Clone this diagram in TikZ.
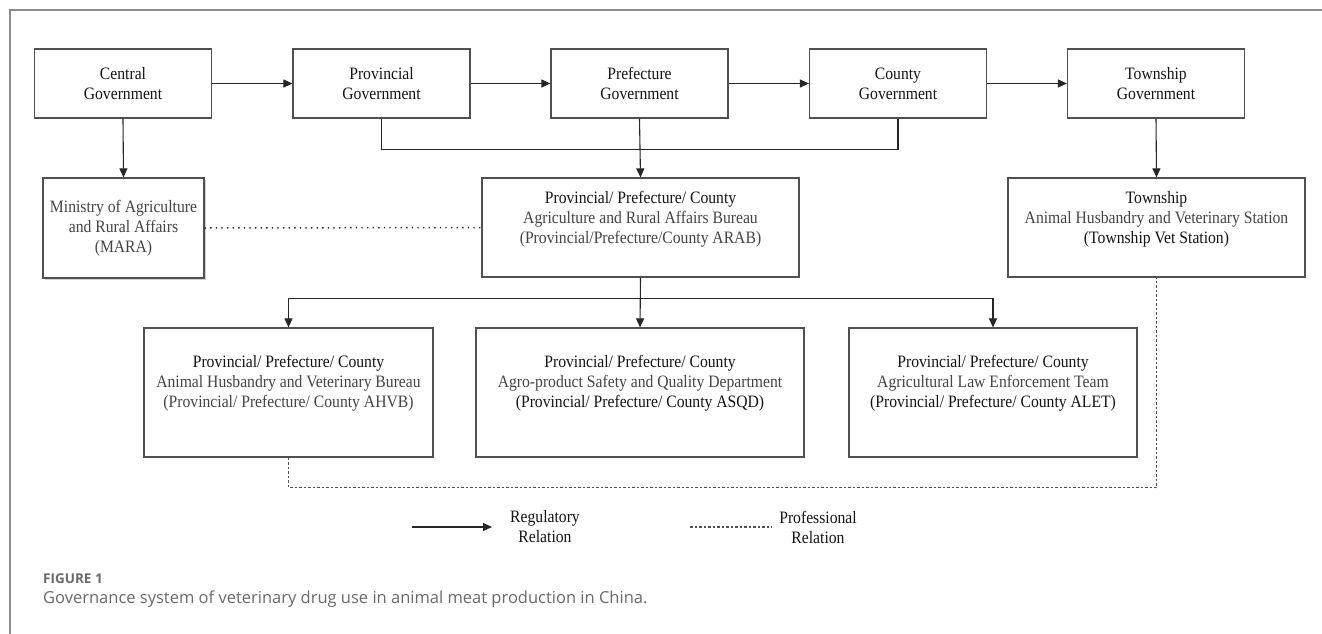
\documentclass[tikz,border=0pt]{standalone}
\usepackage{fontspec}
\setmainfont[FakeStretch=0.9]{Liberation Serif}
\newfontfamily\capfont{Open Sans}
\usetikzlibrary{arrows.meta,shadows}
\definecolor{boxline}{HTML}{505050}
\definecolor{txtdark}{HTML}{141414}
\definecolor{txtlight}{HTML}{444444}
\definecolor{conn}{HTML}{262626}
\definecolor{framec}{HTML}{8A8A8A}
\definecolor{capc}{HTML}{6A6A6A}
\tikzset{
  box/.style={draw=boxline, line width=1.2pt, rectangle, inner sep=0pt, fill=white},
  boxtxt/.style={align=center, inner sep=0pt, text=txtdark, font=\fontsize{17.4}{20}\selectfont},
  reg/.style={draw=conn, line width=1.1pt, -{Triangle[length=9pt,width=8pt]}},
  plain/.style={draw=conn, line width=1.1pt},
  dotline/.style={draw=conn, line width=1.5pt, dash pattern=on 1.3pt off 4.3pt},
  prof/.style={draw=boxline, line width=1.1pt, dash pattern=on 2.6pt off 1.9pt},
}
\begin{document}
\begin{tikzpicture}[x=1pt,y=-1pt]
\useasboundingbox (0,0) rectangle (1322,634);
\fill[white] (0,0) rectangle (1322,634);
\draw[draw=framec, line width=1.6pt] (10,640) -- (10,10) -- (1330,10);

% top row
\node[box, minimum width=177pt, minimum height=69pt] (cg)  at (123,83.5) {};
\node[box, minimum width=177pt, minimum height=69pt] (pg)  at (381.5,83.5) {};
\node[box, minimum width=177pt, minimum height=69pt] (pfg) at (639.5,83.5) {};
\node[box, minimum width=177pt, minimum height=69pt] (cog) at (898,83.5) {};
\node[box, minimum width=177pt, minimum height=69pt] (tg)  at (1156,83.5) {};
\node[boxtxt] (cgt)  at (cg)  {Central\\Government};
\node[boxtxt] (pgt)  at (pg)  {Provincial\\Government};
\node[boxtxt] (pfgt) at (pfg) {Prefecture\\Government};
\node[boxtxt] (cogt) at (cog) {County\\Government};
\node[boxtxt] (tgt)  at (tg)  {Township\\Government};

% middle row
\node[box, minimum width=161pt, minimum height=100pt,
  drop shadow={shadow xshift=1.5pt, shadow yshift=-1.5pt, opacity=0.35}] (mara) at (123.5,228) {};
\node[boxtxt, text=txtlight] (marat) at (mara) {Ministry of Agriculture\\and Rural Affairs\\(MARA)};
\node[box, minimum width=317pt, minimum height=99pt] (arab) at (640.5,227.5) {};
\node[boxtxt] (arabt) at (640.5,219.5) {Provincial/ Prefecture/ County\\
  \textcolor{txtlight}{Agriculture and Rural Affairs Bureau}\\
  \textcolor{txtlight}{(Provincial/Prefecture/County ARAB)}};
\node[box, minimum width=297pt, minimum height=99pt] (vet) at (1156.5,227.5) {};
\node[boxtxt] (vett) at (1156.5,219.5) {Township\\
  \textcolor{txtlight}{Animal Husbandry and Veterinary Station}\\
  (Township Vet Station)};

% bottom row
\node[box, minimum width=289pt, minimum height=129pt] (ahvb) at (288.5,392.5) {};
\node[boxtxt] (ahvbt) at (288.5,383) {Provincial/ Prefecture/ County\\
  \textcolor{txtlight}{Animal Husbandry and Veterinary Bureau}\\
  \textcolor{txtlight}{(Provincial/ Prefecture/ County AHVB)}};
\node[box, minimum width=328pt, minimum height=129pt] (asqd) at (640,392.5) {};
\node[boxtxt] (asqdt) at (640,383) {Provincial/ Prefecture/ County\\
  \textcolor{txtlight}{Agro-product Safety and Quality Department}\\
  (Provincial/ Prefecture/ County ASQD)};
\node[box, minimum width=288pt, minimum height=129pt] (alet) at (993,392.5) {};
\node[boxtxt] (alett) at (993,383) {Provincial/ Prefecture/ County\\
  \textcolor{txtlight}{Agricultural Law Enforcement Team}\\
  (Provincial/ Prefecture/ County ALET)};

% connectors
\draw[reg] (cg.east) -- (pg.west);
\draw[reg] (pg.east) -- (pfg.west);
\draw[reg] (pfg.east) -- (cog.west);
\draw[reg] (cog.east) -- (tg.west);
\draw[reg] (cg.south) -- (mara.north);
\draw[plain] (pg.south) -- ++(0,30.5) -| (cog.south);
\draw[reg] (pfg.south) -- (arab.north);
\draw[reg] (tg.south) -- (vet.north);
\draw[dotline] (mara.east) -- (arab.west);
\draw[reg] (arab.south) -- (asqd.north);
\draw[reg] (arab.south) ++(0,21) -| (ahvb.north);
\draw[reg] (arab.south) ++(0,21) -| (alet.north);
\draw[prof] (ahvb.south) -- ++(0,30) -| (vet.south);

% legend
\coordinate (la1) at (412,527);
\coordinate (la2) at (492,527);
\draw[reg] (la1) -- (la2);
\node[boxtxt] (lreg) at (545,527) {Regulatory\\Relation};
\coordinate (lp1) at (690,527);
\coordinate (lp2) at (772,527);
\draw[prof] (lp1) -- (lp2);
\node[boxtxt] (lprof) at (818,527) {Professional\\Relation};

% caption
\node[anchor=base west, inner sep=0pt, text=capc, font=\capfont\bfseries\fontsize{13.5}{16}\selectfont] (fig) at (43,583) {FIGURE 1};
\node[anchor=base west, inner sep=0pt, text=capc, font=\capfont\fontsize{16.5}{20}\selectfont] (cap) at (43,603) {Governance system of veterinary drug use in animal meat production in China.};
\end{tikzpicture}
\end{document}
